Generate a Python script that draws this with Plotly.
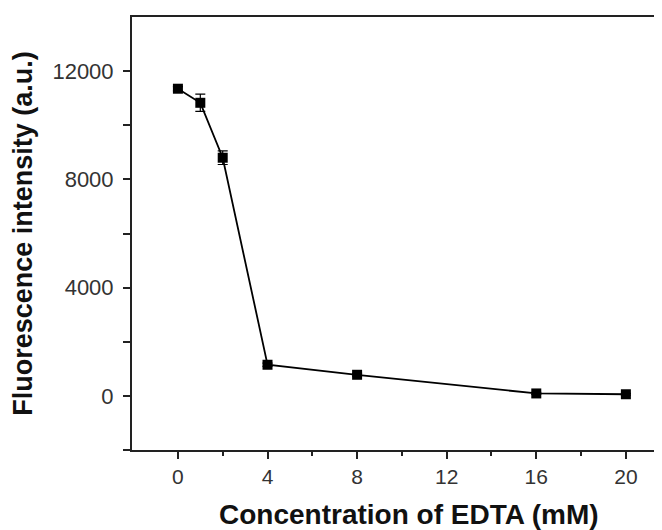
import plotly.graph_objects as go

conc = [0, 1, 2, 4, 8, 16, 20]
intensity = [11350, 10830, 8800, 1150, 780, 90, 60]
err = [80, 320, 250, 60, 50, 40, 30]

x_tickvals = [0, 4, 8, 12, 16, 20]
y_tickvals = [0, 4000, 8000, 12000]

fig = go.Figure()
fig.add_trace(go.Scatter(
    x=conc, y=intensity,
    mode="lines+markers",
    line=dict(color="black", width=1.8),
    marker=dict(symbol="square", size=10, color="black"),
    error_y=dict(type="data", array=err, visible=True, color="black", thickness=1.2, width=5),
    showlegend=False,
))

font_family = "Liberation Sans, Arial, sans-serif"
fig.update_layout(
    width=662, height=530,
    margin=dict(l=124, r=0, t=9, b=88),
    paper_bgcolor="white", plot_bgcolor="white",
    font=dict(family=font_family, color="#222"),
)
fig.update_xaxes(
    range=[-2.05, 21.97], automargin=False,
    tickvals=x_tickvals, ticks="outside", ticklen=7, tickwidth=2, tickcolor="#222",
    minor=dict(tickvals=[2, 6, 10, 14, 18], ticks="outside", ticklen=4, tickwidth=2, tickcolor="#222"),
    showline=True, linecolor="#222", linewidth=2, mirror=True,
    showgrid=False, zeroline=False,
    tickfont=dict(size=21, color="#333"),
    title=dict(text="&nbsp;&nbsp;<b>Concentration of EDTA (mM)</b>", font=dict(size=28, color="#111"), standoff=17),
)
fig.update_yaxes(
    range=[-2000, 14000], automargin=False,
    tickvals=y_tickvals, ticktext=[str(v) for v in y_tickvals],
    ticks="outside", ticklen=7, tickwidth=2, tickcolor="#222", ticklabelstandoff=5,
    minor=dict(tickvals=[-2000, 2000, 6000, 10000], ticks="outside", ticklen=7, tickwidth=2, tickcolor="#222"),
    showline=True, linecolor="#222", linewidth=2, mirror=False,
    showgrid=False, zeroline=False,
    tickfont=dict(size=22, color="#333"),
    title=dict(text="<b>Fluorescence intensity (a.u.)</b>", font=dict(size=27, color="#111"), standoff=20),
)

fig.write_html("out.html")
